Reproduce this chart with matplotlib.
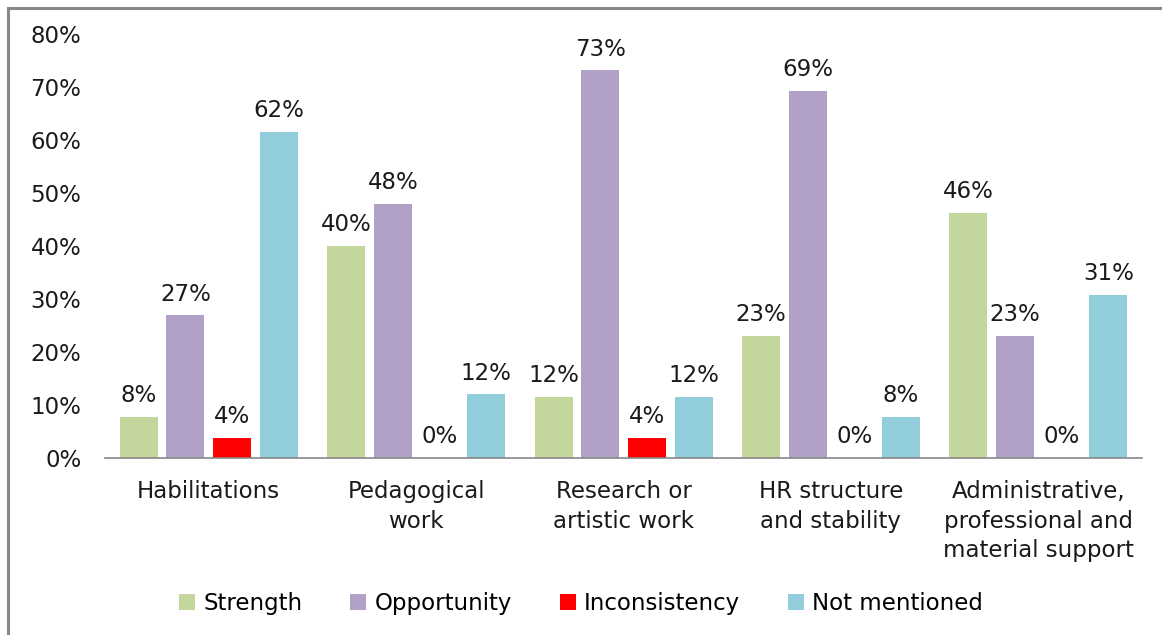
import numpy as np
import matplotlib.pyplot as plt
from matplotlib.patches import Rectangle

# data (share of units)
categories = ['Habilitations', 'Pedagogical\nwork', 'Research or\nartistic work',
              'HR structure\nand stability', 'Administrative,\nprofessional and\nmaterial support']
series = ['Strength', 'Opportunity', 'Inconsistency', 'Not mentioned']
strength = [7.7, 40.0, 11.5, 23.1, 46.2]
opportunity = [26.9, 48.0, 73.1, 69.2, 23.1]
inconsistency = [3.8, 0.0, 3.8, 0.0, 0.0]
not_mentioned = [61.5, 12.0, 11.5, 7.7, 30.8]
colors = ['#C3D69B', '#B2A1C7', '#FF0000', '#92CDDC']

fs = 16.5
plt.rcParams['font.family'] = 'DejaVu Sans'
fig = plt.figure(figsize=(11.62, 6.35), dpi=100)
ax = fig.add_axes([0.0904, 0.2787, 0.8924, 0.668])

x = np.arange(len(categories)) + 0.5
step = 0.225
width = 0.183
values = [strength, opportunity, inconsistency, not_mentioned]
for i, (name, vals, c) in enumerate(zip(series, values, colors)):
    pos = x + (i - 1.5) * step
    bars = ax.bar(pos, vals, width=width, color=c, label=name)
    for b, v in zip(bars, vals):
        ax.annotate('%d%%' % round(v), (b.get_x() + b.get_width() / 2, v),
                    xytext=(0, 7), textcoords='offset points',
                    ha='center', va='bottom', fontsize=fs, color='#1a1a1a')

ax.set_xlim(0, 5)
ax.set_ylim(0, 80)
ax.set_yticks(range(0, 81, 10))
ax.set_yticklabels(['%d%%' % t for t in range(0, 81, 10)])
ax.set_xticks(x)
ax.set_xticklabels(categories, linespacing=1.35)
ax.tick_params(axis='y', length=0, pad=17, labelsize=fs, labelcolor='#1a1a1a')
ax.tick_params(axis='x', length=0, pad=16, labelsize=fs, labelcolor='#1a1a1a')
for s in ['top', 'right', 'left']:
    ax.spines[s].set_visible(False)
ax.spines['bottom'].set_color('#888888')
ax.spines['bottom'].set_linewidth(1.2)

ax.legend(loc='center', bbox_to_anchor=(0.5, 0.05), bbox_transform=fig.transFigure,
          ncol=4, frameon=False, fontsize=fs, handlelength=0.7, handleheight=0.7,
          handletextpad=0.35, columnspacing=2.1)

# outer chart border (left and top only visible)
fig.patches.append(Rectangle((8 / 1162, -0.1), 1.2, 1 - 8 / 635 + 0.1,
                             transform=fig.transFigure, fill=False,
                             edgecolor='#888888', linewidth=2.2))

fig.savefig('out.png', dpi=100)
